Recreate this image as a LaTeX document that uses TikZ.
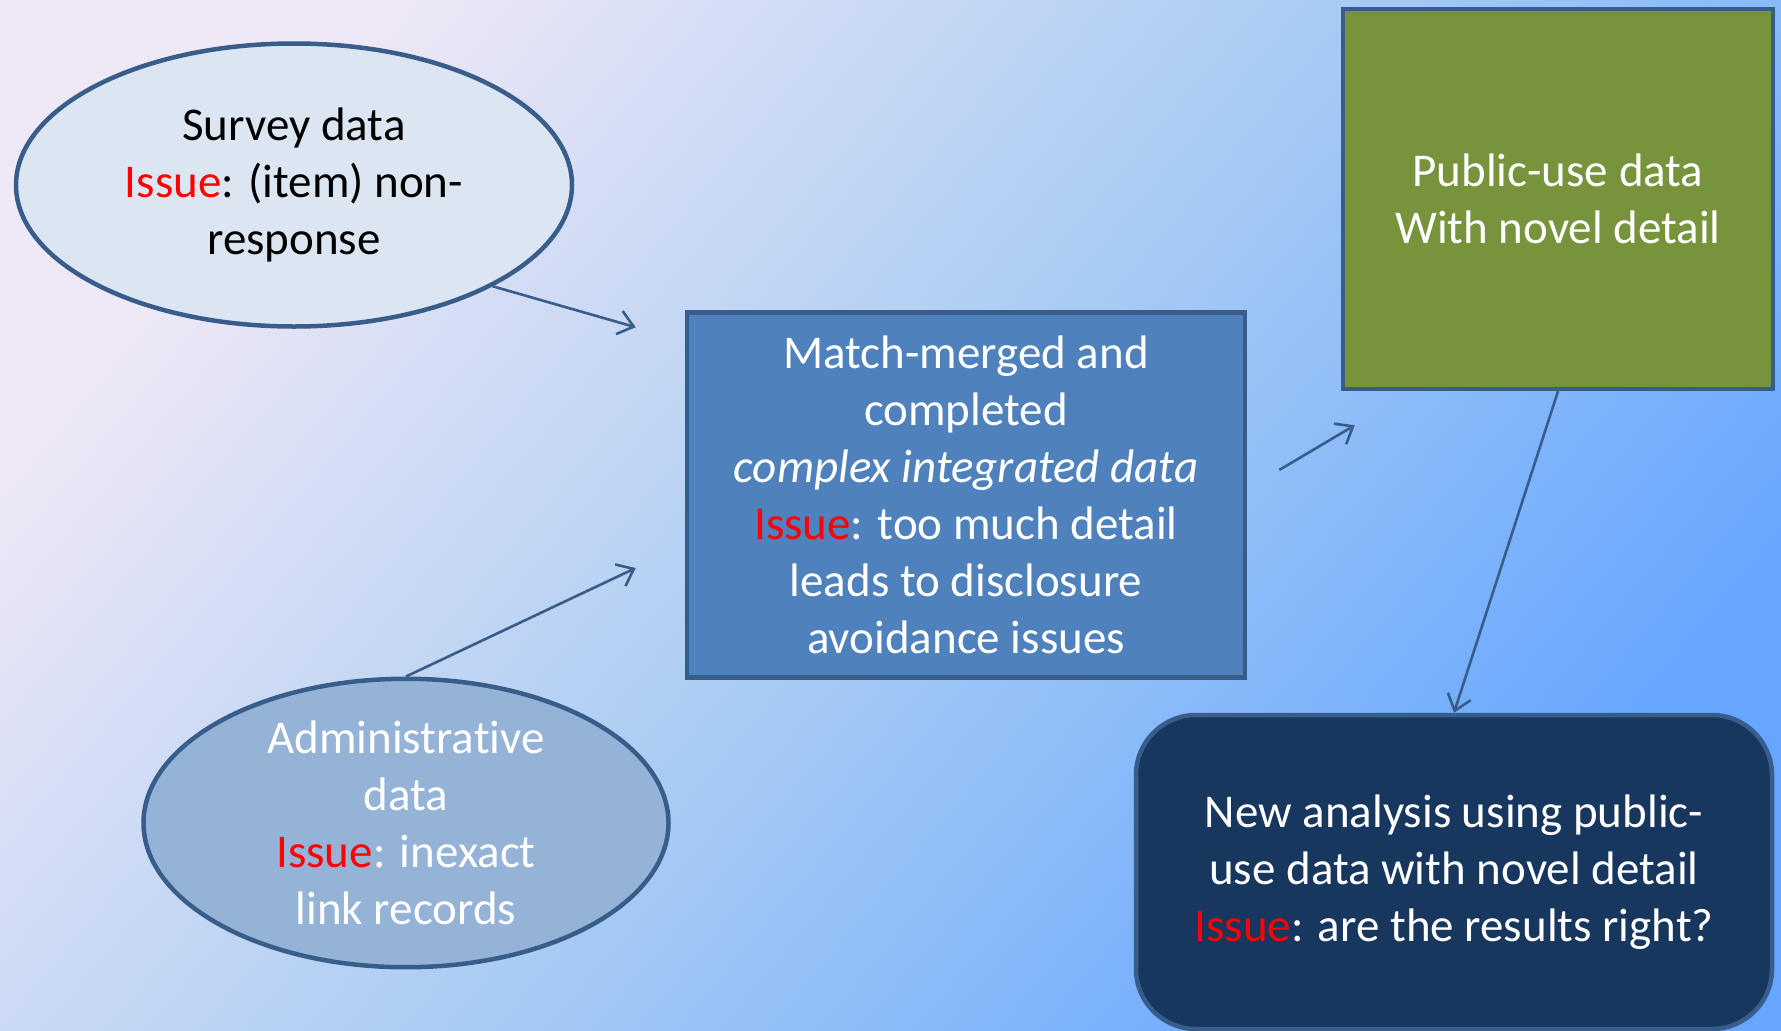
\documentclass[tikz,border=0pt]{standalone}
\usepackage{fontspec}
\setmainfont{Carlito}[Ligatures=NoCommon]
\usepackage{tikz}
\usetikzlibrary{calc}
\usetikzlibrary{arrows.meta}
\usetikzlibrary{shapes.geometric}
\usetikzlibrary{positioning}

\definecolor{bgtop}{HTML}{EFE8F6}
\definecolor{bgmid}{HTML}{A9CCF3}
\definecolor{bgbot}{HTML}{66A6FF}
\definecolor{edge}{HTML}{385D8A}
\definecolor{survfill}{HTML}{DCE6F2}
\definecolor{adminfill}{HTML}{95B3D7}
\definecolor{midfill}{HTML}{4F81BD}
\definecolor{pubfill}{HTML}{77933C}
\definecolor{newfill}{HTML}{17375E}
\definecolor{issuered}{HTML}{FF0000}

\newcommand{\issue}{\textcolor{issuered}{Issue}}

\begin{document}
\begin{tikzpicture}[x=1pt, y=-1pt,
    box/.style={draw=edge, line width=4.5pt, align=center, inner sep=0pt,
      font=\fontsize{47}{57}\selectfont},
    oval/.style={box, ellipse},
    flow/.style={draw=edge, line width=2.6pt,
      -{Straight Barb[length=15pt, width=24pt]}}]
    % Background
    \shade[top color=bgtop, bottom color=bgbot, middle color=bgmid,
      shading angle=50] (0,0) rectangle (1781,1031);
    \useasboundingbox (0,0) rectangle (1781,1031);

    % Sources
    \node[oval, fill=survfill, minimum width=556pt, minimum height=283pt]
      (survey) at (294,185) {Survey data\\\issue: (item) non-\\response};
    \node[oval, fill=adminfill, text=white, minimum width=525pt, minimum height=285pt]
      (admin) at (406,823) {Administrative\\data\\\issue: inexact\\link records};

    % Merged data
    \node[box, fill=midfill, text=white, minimum width=558pt, minimum height=365pt]
      (mid) at (966,495) {Match-merged and\\completed\\\textit{complex integrated data}\\
      \issue: too much detail\\leads to disclosure\\avoidance issues};

    % Results
    \node[box, fill=pubfill, text=white, minimum width=430pt, minimum height=380pt]
      (pub) at (1558,199) {Public-use data\\With novel detail};
    \node[box, fill=newfill, text=white, rounded corners=60pt,
      minimum width=636pt, minimum height=314pt]
      (new) at (1454,872) {New analysis using public-\\use data with novel detail\\
      \issue: are the results right?};

    % Arrows
    \coordinate (survin) at ($(mid.north west)+(-49,17)$);
    \coordinate (adminin) at ($(mid.west)+(-49,73)$);
    \coordinate (midout) at ($(mid.east)+(32,-25)$);
    \coordinate (pubin) at ($(pub.south west)+(14,34)$);
    \draw[flow] (survey.-27) -- (survin);
    \draw[flow] (admin.north) -- (adminin);
    \draw[flow] (midout) -- (pubin);
    \draw[flow] (pub.south) -- (new.north);
\end{tikzpicture}
\end{document}
